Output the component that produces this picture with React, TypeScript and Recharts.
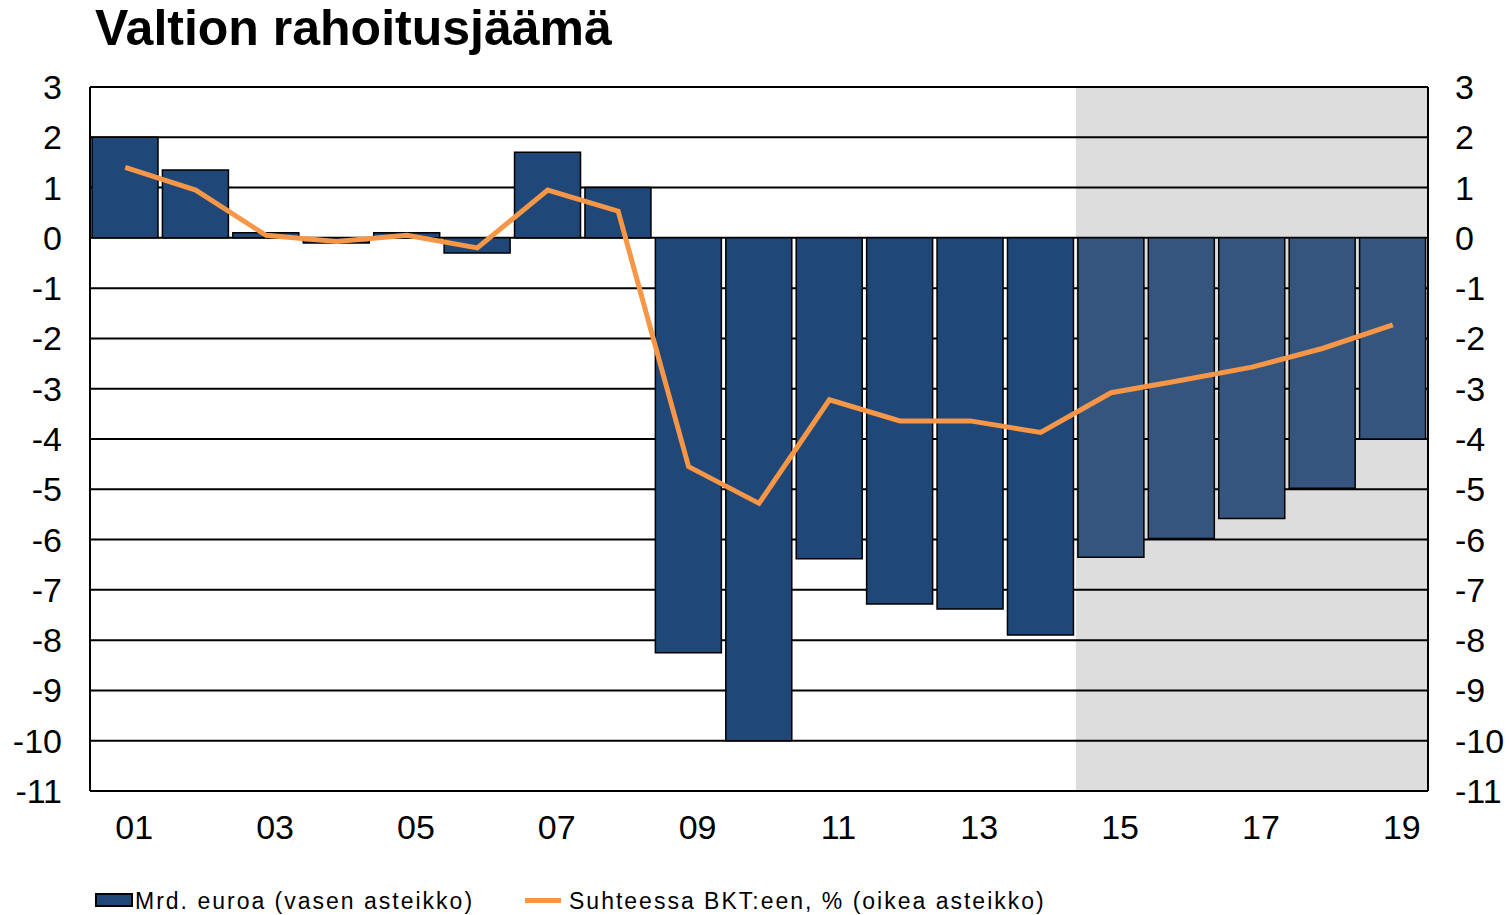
import React from 'react';
import { ComposedChart, Bar, Line, Cell, XAxis, YAxis, CartesianGrid, ReferenceArea } from 'recharts';

// Years 2001-2019, 15-19 are forecast
const years = ['01', '02', '03', '04', '05', '06', '07', '08', '09', '10', '11', '12', '13', '14', '15', '16', '17', '18', '19'];
const balanceBn = [2.0, 1.35, 0.1, -0.1, 0.1, -0.3, 1.7, 1.0, -8.25, -10.0, -6.38, -7.28, -7.38, -7.9, -6.35, -5.98, -5.58, -4.98, -4.0];
const balancePctGdp = [1.4, 0.95, 0.05, -0.07, 0.05, -0.2, 0.95, 0.53, -4.55, -5.28, -3.22, -3.64, -3.64, -3.87, -3.08, -2.83, -2.57, -2.2, -1.73];
const forecastFrom = '15';
const yTicks = [3, 2, 1, 0, -1, -2, -3, -4, -5, -6, -7, -8, -9, -10, -11];

const BLUE = '#1F4778';
const BLUE_FORECAST = '#36557E';
const ORANGE = '#F79646';
const FONT = '"Liberation Sans", Arial, sans-serif';

const data = years.map((y, i) => ({ year: y, bn: balanceBn[i], pct: balancePctGdp[i] }));

const tickStyle = { fontSize: 34, fill: '#000', fontFamily: FONT };

export default function App() {
  const firstForecast = years.indexOf(forecastFrom);
  return (
    <div style={{ position: 'absolute', left: 0, top: 0, width: 1512, height: 915, background: '#fff', fontFamily: FONT }}>
      <div style={{ position: 'absolute', left: 95, top: 3, fontSize: 50, lineHeight: '50px', fontWeight: 'bold', color: '#000' }}>
        Valtion rahoitusjäämä
      </div>
      <ComposedChart width={1512} height={915} data={data} margin={{ top: 87, right: 0, left: 0, bottom: 64 }} barCategoryGap={2}>
        <ReferenceArea yAxisId="left" x1={forecastFrom} x2={years[years.length - 1]} y1={-11} y2={3} fill="#DDDDDD" fillOpacity={1} stroke="none" zIndex={-200} />
        <CartesianGrid vertical={false} stroke="#000" strokeWidth={2} yAxisId="left" />
        <XAxis dataKey="year" interval={1} tickLine={false} axisLine={{ stroke: '#000', strokeWidth: 2 }} tick={{ ...tickStyle, dx: 9 }} height={60} tickMargin={18} />
        <YAxis yAxisId="left" domain={[-11, 3]} ticks={yTicks} interval={0} width={90} tickLine={false} axisLine={{ stroke: '#000', strokeWidth: 2 }} tick={tickStyle} tickMargin={22} />
        <YAxis yAxisId="right" orientation="right" domain={[-11, 3]} ticks={yTicks} interval={0} width={84} tickLine={false} axisLine={{ stroke: '#000', strokeWidth: 2 }} tick={{ ...tickStyle, textAnchor: 'start' }} tickMargin={21} />
        <Bar yAxisId="left" dataKey="bn" stroke="#000" strokeWidth={1.5} isAnimationActive={false}>
          {data.map((d, i) => (
            <Cell key={d.year} fill={i >= firstForecast ? BLUE_FORECAST : BLUE} />
          ))}
        </Bar>
        <Line yAxisId="right" dataKey="pct" type="linear" stroke={ORANGE} strokeWidth={5} dot={false} isAnimationActive={false} />
      </ComposedChart>
      <div style={{ position: 'absolute', left: 95, top: 893, width: 34, height: 10, background: BLUE, border: '2px solid #000' }} />
      <div style={{ position: 'absolute', left: 135, top: 887, fontSize: 23, lineHeight: '28px', letterSpacing: 2, color: '#000' }}>
        Mrd. euroa (vasen asteikko)
      </div>
      <div style={{ position: 'absolute', left: 525, top: 898, width: 36, height: 5, background: ORANGE }} />
      <div style={{ position: 'absolute', left: 569, top: 887, fontSize: 23, lineHeight: '28px', letterSpacing: 2, color: '#000' }}>
        Suhteessa BKT:een, % (oikea asteikko)
      </div>
    </div>
  );
}
